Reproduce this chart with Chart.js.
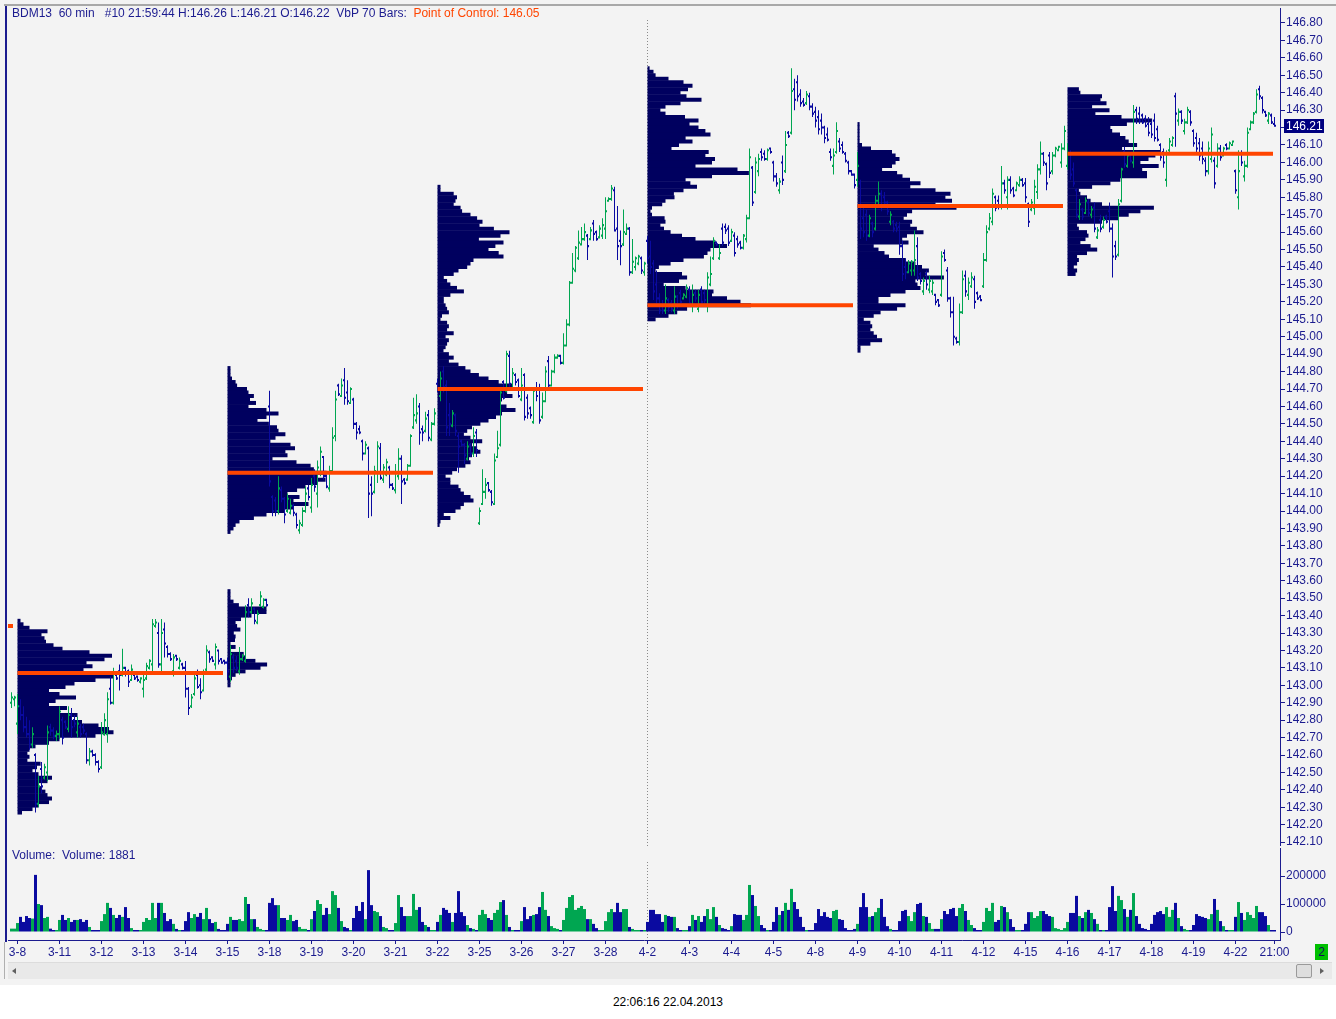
<!DOCTYPE html>
<html>
<head>
<meta charset="utf-8">
<title>BDM13 60 min</title>
<script src="https://cdn.jsdelivr.net/npm/chart.js@4.4.1/dist/chart.umd.min.js"></script>
<style>
  body { margin: 0; width: 1336px; height: 1019px; overflow: hidden; background: #fff;
         font-family: "Liberation Sans", Arial, sans-serif; }
  div, canvas { position: absolute; }
  #panel { left: 0; top: 0; width: 1336px; height: 985px; background: #f3f3f3; }
  #topline { left: 4px; top: 4px; width: 1332px; height: 2px; background: #a8a8a8; }
  #leftline { left: 5px; top: 6px; width: 2px; height: 936px; background: #1b1b8f; }
  #leftline2 { left: 4px; top: 942px; width: 1px; height: 37px; background: #b0b0b0; }
  #price { left: 8px; top: 8px; }
  #volume { left: 8px; top: 848px; }
  #header, #vollabel { left: 12px; font-size: 12px; line-height: 16px; color: #1b1b8f; white-space: pre; }
  #header { top: 5px; }
  #vollabel { top: 847px; }
  .poc { color: #ff4500; }
  #scroll { left: 8px; top: 962px; width: 1324px; height: 16px; background: #e9e9e9; border-top: 1px solid #dcdcdc; }
  #larrow { left: 4px; top: 5px; width: 0; height: 0; border-top: 3px solid transparent;
            border-bottom: 3px solid transparent; border-right: 4px solid #606060; }
  #thumb { left: 1288px; top: 1px; width: 14px; height: 12px; background: #dedede;
           border: 1px solid #9a9a9a; border-radius: 2px; }
  #rarrow { left: 1312px; top: 5px; width: 0; height: 0; border-top: 3px solid transparent;
            border-bottom: 3px solid transparent; border-left: 4px solid #606060; }
  #badge { left: 1315px; top: 944px; width: 13px; height: 16px; background: #00c000; color: #10105a;
           font-size: 12px; line-height: 16px; text-align: center; }
  #stamp { left: 0; top: 995px; width: 1336px; text-align: center; font-size: 12px; line-height: 14px; color: #000; }
</style>
</head>
<body>
<div id="panel"></div>
<div id="topline"></div>
<div id="leftline"></div>
<div id="leftline2"></div>
<canvas id="price" width="1328" height="838"></canvas>
<canvas id="volume" width="1328" height="114"></canvas>
<div id="header"></div>
<div id="vollabel"></div>
<div id="scroll"><div id="larrow"></div><div id="thumb"></div><div id="rarrow"></div></div>
<div id="badge">2</div>
<div id="stamp">22:06:16 22.04.2013</div>

<script>
// 60 min bars, first visible bar is index -2 (two bars of 3-7), 14 bars per day
const firstBar = -2;

const opens = [
  142.90,142.92,
  142.78,142.88,142.83,142.76,142.72,142.66,142.60,142.32,142.52,142.47,142.50,142.76,142.74,142.71,
  142.72,142.80,142.79,142.75,142.83,142.80,142.73,142.76,142.76,142.72,142.57,142.62,142.60,142.56,
  142.53,142.72,142.72,142.98,142.90,143.06,143.08,143.06,143.10,143.08,143.03,143.06,143.05,143.02,
  142.98,143.04,143.10,143.12,143.34,143.30,143.12,143.32,143.22,143.18,143.08,143.17,143.10,143.12,
  143.10,142.98,142.88,142.95,143.06,143.00,142.97,143.09,143.19,143.16,143.12,143.20,143.15,143.14,
  143.13,143.05,143.16,143.14,143.08,143.15,143.14,143.46,143.42,143.44,143.36,143.46,143.45,143.49,
  144.60,144.08,144.06,144.00,144.12,144.07,144.00,143.99,144.03,143.98,143.89,143.92,144.00,144.13,
  144.02,144.20,144.10,144.22,144.31,144.20,144.13,144.23,144.43,144.72,144.66,144.75,144.68,144.62,
  144.64,144.50,144.47,144.40,144.33,144.36,144.15,144.11,144.22,144.36,144.18,144.21,144.25,144.15,
  144.12,144.20,144.30,144.18,144.18,144.26,144.48,144.52,144.60,144.47,144.46,144.55,144.41,144.50,
  144.73,144.66,144.80,144.72,144.55,144.49,144.55,144.43,144.40,144.38,144.30,144.38,144.33,144.45,
  143.93,144.04,144.11,144.16,144.11,144.04,144.31,144.38,144.74,144.69,144.89,144.70,144.78,144.75,
  144.64,144.78,144.65,144.59,144.51,144.70,144.70,144.54,144.63,144.86,144.72,144.80,144.88,144.89,
  144.85,144.95,145.07,145.31,145.38,145.45,145.53,145.56,145.58,145.56,145.65,145.60,145.57,145.58,
  145.62,145.78,145.79,145.84,145.62,145.55,145.53,145.59,145.62,145.37,145.40,145.42,145.45,145.37,
  145.55,145.46,145.42,145.30,145.22,145.18,145.15,145.21,145.19,145.15,145.23,145.25,145.22,145.23,
  145.27,145.18,145.25,145.16,145.27,145.25,145.18,145.30,145.45,145.54,145.45,145.62,145.63,145.62,
  145.55,145.58,145.56,145.54,145.51,145.56,145.68,145.97,145.83,145.95,146.06,146.05,146.02,146.08,
  146.00,145.92,145.84,146.00,145.95,146.17,146.17,146.42,146.46,146.39,146.35,146.34,146.38,146.32,
  146.29,146.26,146.24,146.20,146.16,146.06,145.98,146.06,146.12,146.10,146.05,146.00,145.95,145.93,
  145.90,145.88,145.68,145.70,145.58,145.65,145.62,145.78,145.82,145.80,145.77,145.66,145.66,145.64,
  145.63,145.52,145.40,145.37,145.38,145.38,145.52,145.36,145.26,145.36,145.27,145.26,145.24,145.21,
  145.24,145.48,145.38,145.22,145.14,144.99,144.97,145.14,145.35,145.24,145.29,145.33,145.25,145.23,
  145.29,145.44,145.62,145.66,145.80,145.78,145.75,145.88,145.80,145.90,145.85,145.84,145.87,145.90,
  145.88,145.76,145.73,145.74,145.83,145.96,146.05,145.99,146.04,145.95,146.04,146.07,146.00,146.08,
  145.98,146.05,145.96,145.84,145.69,145.73,145.71,145.77,145.70,145.74,145.57,145.67,145.63,145.69,
  145.72,145.62,145.52,145.47,145.78,146.06,145.98,146.04,146.00,146.30,146.28,146.27,146.25,146.22,
  146.22,146.24,146.19,146.10,146.06,145.90,146.07,146.10,146.38,146.24,146.29,146.18,146.23,146.29,
  146.18,146.14,146.11,146.08,146.01,145.95,146.02,146.01,145.98,146.08,146.04,146.10,146.08,146.10,
  145.95,145.80,146.05,145.92,145.98,146.19,146.23,146.29,146.42,146.37,146.29,146.24,146.27,146.22
];

const highs = [
  142.96,142.94,
  142.95,142.92,142.88,142.82,142.80,142.76,142.61,142.48,142.56,142.55,142.77,142.78,142.76,142.74,
  142.88,142.82,142.80,142.88,142.87,142.83,142.82,142.78,142.78,142.73,142.64,142.63,142.61,142.57,
  142.79,142.84,142.96,143.05,143.10,143.07,143.12,143.21,143.10,143.09,143.12,143.06,143.05,143.04,
  143.07,143.13,143.15,143.38,143.38,143.36,143.38,143.36,143.23,143.19,143.18,143.17,143.16,143.13,
  143.14,142.99,142.95,143.06,143.09,143.04,143.09,143.23,143.20,143.16,143.24,143.20,143.15,143.14,
  143.16,143.23,143.18,143.17,143.22,143.18,143.46,143.50,143.50,143.44,143.43,143.54,143.50,143.49,
  144.69,144.09,144.08,144.20,144.14,144.08,144.10,144.07,144.04,143.99,143.95,144.02,144.14,144.15,
  144.19,144.24,144.29,144.37,144.31,144.21,144.26,144.48,144.69,144.73,144.76,144.82,144.75,144.71,
  144.65,144.51,144.49,144.41,144.40,144.37,144.20,144.26,144.40,144.39,144.27,144.30,144.26,144.16,
  144.27,144.36,144.32,144.19,144.27,144.44,144.65,144.67,144.62,144.49,144.57,144.58,144.51,144.59,
  144.76,144.80,144.83,144.75,144.62,144.58,144.56,144.45,144.41,144.39,144.40,144.39,144.48,144.47,
  144.02,144.24,144.19,144.16,144.12,144.33,144.46,144.69,144.75,144.92,144.92,144.82,144.79,144.76,
  144.82,144.79,144.67,144.60,144.70,144.74,144.73,144.68,144.83,144.89,144.81,144.90,144.90,144.89,
  145.02,145.10,145.32,145.48,145.52,145.61,145.63,145.65,145.59,145.63,145.67,145.61,145.64,145.68,
  145.80,145.80,145.87,145.86,145.75,145.61,145.73,145.65,145.63,145.56,145.46,145.47,145.46,145.43,
  145.58,145.55,145.44,145.38,145.25,145.21,145.30,145.22,145.21,145.29,145.24,145.27,145.25,145.30,
  145.29,145.30,145.27,145.27,145.29,145.27,145.37,145.46,145.57,145.54,145.53,145.65,145.65,145.64,
  145.62,145.60,145.58,145.55,145.59,145.70,146.08,145.98,146.03,146.05,146.08,146.07,146.08,146.08,
  146.01,145.94,145.91,146.04,146.18,146.18,146.54,146.48,146.50,146.42,146.37,146.41,146.40,146.34,
  146.32,146.30,146.28,146.21,146.20,146.08,146.08,146.23,146.14,146.12,146.06,146.01,145.95,145.93,
  146.06,145.90,145.76,145.73,145.70,145.66,145.81,145.89,145.84,145.83,145.78,145.72,145.67,145.66,
  145.66,145.55,145.45,145.44,145.44,145.61,145.57,145.37,145.34,145.38,145.35,145.33,145.24,145.21,
  145.49,145.50,145.40,145.23,145.23,145.00,145.19,145.38,145.38,145.34,145.37,145.35,145.26,145.24,
  145.48,145.64,145.71,145.85,145.81,145.81,145.98,145.90,145.92,145.92,145.86,145.89,145.92,145.91,
  145.91,145.77,145.79,145.90,145.99,146.12,146.06,146.00,146.06,146.06,146.09,146.09,146.11,146.21,
  146.11,146.07,146.00,145.85,145.79,145.74,145.80,145.79,145.75,145.77,145.63,145.70,145.69,145.70,
  145.77,145.65,145.55,145.79,145.97,146.09,146.06,146.04,146.33,146.32,146.32,146.28,146.27,146.26,
  146.24,146.28,146.21,146.11,146.08,146.07,146.14,146.15,146.40,146.31,146.30,146.25,146.32,146.30,
  146.19,146.17,146.14,146.12,146.03,146.12,146.20,146.03,146.11,146.10,146.09,146.11,146.12,146.12,
  145.96,146.07,146.07,146.01,146.20,146.24,146.29,146.42,146.44,146.38,146.29,146.29,146.28,146.26
];

const lows = [
  142.87,142.88,
  142.72,142.80,142.73,142.70,142.63,142.64,142.27,142.30,142.38,142.46,142.45,142.71,142.69,142.68,
  142.69,142.66,142.75,142.73,142.70,142.76,142.70,142.70,142.72,142.55,142.54,142.59,142.54,142.50,
  142.52,142.71,142.67,142.89,142.89,143.03,142.97,143.05,143.05,142.99,143.03,143.03,143.02,143.01,
  142.93,143.03,143.09,143.07,143.33,143.10,143.08,143.16,143.16,143.14,143.05,143.14,143.09,143.09,
  142.93,142.83,142.87,142.94,142.98,142.92,142.97,143.08,143.13,143.14,143.09,143.12,143.13,143.12,
  143.03,143.02,143.07,143.08,143.06,143.14,143.13,143.39,143.41,143.35,143.35,143.45,143.44,143.45,
  144.14,143.97,143.97,143.98,144.05,143.93,143.99,143.98,143.97,143.90,143.87,143.91,143.99,144.06,
  143.99,144.11,144.02,144.20,144.18,144.13,144.11,144.22,144.40,144.66,144.66,144.61,144.61,144.62,
  144.47,144.41,144.44,144.29,144.33,143.96,143.97,144.10,144.16,144.18,144.16,144.20,144.13,144.12,
  144.10,144.18,144.04,144.15,144.18,144.26,144.47,144.50,144.38,144.40,144.45,144.40,144.40,144.49,
  144.68,144.63,144.68,144.43,144.43,144.48,144.43,144.22,144.37,144.27,144.29,144.31,144.31,144.31,
  143.92,144.04,144.07,144.11,144.03,144.04,144.31,144.37,144.64,144.68,144.70,144.70,144.72,144.65,
  144.63,144.52,144.53,144.53,144.50,144.63,144.50,144.53,144.63,144.71,144.72,144.79,144.88,144.84,
  144.84,144.95,145.06,145.31,145.37,145.44,145.53,145.55,145.44,145.56,145.55,145.55,145.57,145.56,
  145.56,145.78,145.78,145.61,145.44,145.41,145.52,145.59,145.35,145.36,145.38,145.41,145.36,145.35,
  145.42,145.36,145.21,145.19,145.13,145.13,145.13,145.14,145.14,145.13,145.16,145.18,145.22,145.22,
  145.17,145.14,145.20,145.14,145.17,145.19,145.14,145.29,145.44,145.52,145.44,145.52,145.59,145.52,
  145.55,145.46,145.51,145.50,145.50,145.54,145.68,145.75,145.82,145.92,146.01,146.01,146.01,146.05,
  145.89,145.86,145.82,145.87,145.94,146.14,146.16,146.30,146.35,146.32,146.32,146.33,146.30,146.26,
  146.20,146.16,146.16,146.11,146.12,146.01,145.93,146.05,146.06,146.05,146.00,145.93,145.93,145.85,
  145.86,145.56,145.57,145.55,145.57,145.57,145.61,145.75,145.72,145.75,145.70,145.64,145.60,145.60,
  145.47,145.32,145.33,145.37,145.35,145.35,145.32,145.30,145.24,145.27,145.25,145.24,145.18,145.17,
  145.23,145.43,145.20,145.11,144.95,144.96,144.95,145.13,145.23,145.21,145.28,145.16,145.21,145.21,
  145.28,145.43,145.61,145.64,145.72,145.73,145.73,145.82,145.73,145.82,145.80,145.84,145.86,145.86,
  145.77,145.63,145.72,145.70,145.79,145.93,145.98,145.84,145.91,145.93,146.03,146.07,145.97,146.07,
  145.96,145.90,145.86,145.68,145.67,145.67,145.71,145.69,145.68,145.60,145.56,145.60,145.62,145.65,
  145.60,145.34,145.44,145.46,145.77,145.97,145.97,146.00,145.97,146.22,146.22,146.22,146.20,146.15,
  146.14,146.12,146.12,146.01,145.97,145.86,146.06,146.09,146.09,146.21,146.22,146.16,146.22,146.21,
  146.09,146.05,146.01,145.99,145.92,145.93,146.00,145.85,145.97,146.01,146.04,146.07,146.08,146.10,
  145.82,145.73,145.98,145.89,145.97,146.19,146.22,146.28,146.36,146.28,146.26,146.22,146.22,146.21
];

const closes = [
  142.93,142.93,
  142.88,142.83,142.76,142.72,142.66,142.72,142.32,142.42,142.42,142.53,142.73,142.74,142.71,142.72,
  142.85,142.70,142.76,142.83,142.76,142.78,142.78,142.72,142.74,142.57,142.62,142.60,142.56,142.52,
  142.73,142.80,142.92,142.90,143.07,143.04,143.06,143.10,143.07,143.02,143.09,143.04,143.03,143.04,
  143.03,143.11,143.14,143.35,143.36,143.12,143.30,143.24,143.18,143.15,143.16,143.15,143.14,143.10,
  142.98,142.87,142.93,143.04,142.99,142.96,143.07,143.20,143.15,143.14,143.22,143.14,143.13,143.13,
  143.08,143.18,143.10,143.10,143.15,143.17,143.42,143.42,143.47,143.37,143.41,143.51,143.49,143.46,
  144.17,144.00,144.00,144.13,144.07,143.98,144.07,144.03,143.99,143.92,143.93,144.00,144.10,144.08,
  144.15,144.14,144.25,144.34,144.20,144.14,144.23,144.42,144.64,144.67,144.72,144.65,144.63,144.70,
  144.50,144.45,144.45,144.33,144.38,144.10,144.10,144.23,144.37,144.19,144.25,144.28,144.15,144.13,
  144.22,144.30,144.17,144.16,144.26,144.43,144.55,144.56,144.45,144.45,144.53,144.42,144.50,144.56,
  144.70,144.76,144.71,144.48,144.50,144.56,144.46,144.37,144.38,144.32,144.37,144.33,144.43,144.35,
  144.00,144.11,144.15,144.12,144.05,144.29,144.36,144.68,144.65,144.90,144.73,144.79,144.74,144.66,
  144.72,144.54,144.56,144.55,144.69,144.66,144.52,144.63,144.80,144.72,144.80,144.88,144.89,144.85,
  144.95,145.07,145.31,145.39,145.51,145.54,145.56,145.60,145.52,145.61,145.59,145.56,145.62,145.64,
  145.72,145.79,145.85,145.61,145.52,145.52,145.60,145.62,145.37,145.43,145.45,145.46,145.38,145.42,
  145.45,145.40,145.26,145.22,145.15,145.15,145.22,145.17,145.16,145.23,145.18,145.20,145.24,145.28,
  145.19,145.24,145.22,145.24,145.20,145.21,145.34,145.36,145.55,145.53,145.48,145.54,145.61,145.54,
  145.60,145.48,145.53,145.51,145.58,145.68,146.03,145.77,146.00,146.02,146.03,146.02,146.07,146.06,
  145.92,145.88,145.89,145.90,146.10,146.15,146.41,146.36,146.38,146.34,146.33,146.39,146.32,146.28,
  146.24,146.19,146.20,146.14,146.13,146.03,146.04,146.18,146.08,146.06,146.01,145.95,145.93,145.87,
  145.98,145.62,145.60,145.58,145.68,145.60,145.78,145.82,145.75,145.77,145.72,145.70,145.62,145.62,
  145.52,145.36,145.37,145.42,145.43,145.44,145.34,145.32,145.32,145.30,145.32,145.31,145.20,145.18,
  145.46,145.44,145.22,145.14,145.00,144.97,145.14,145.33,145.26,145.31,145.34,145.20,145.22,145.21,
  145.44,145.60,145.68,145.82,145.74,145.75,145.88,145.84,145.90,145.84,145.81,145.88,145.90,145.87,
  145.80,145.66,145.77,145.86,145.96,146.05,146.00,145.88,145.94,146.04,146.08,146.09,146.08,146.18,
  146.05,145.93,145.88,145.70,145.76,145.69,145.78,145.71,145.73,145.62,145.61,145.62,145.67,145.66,
  145.62,145.46,145.46,145.76,145.96,145.99,146.04,146.01,146.29,146.25,146.24,146.23,146.21,146.17,
  146.16,146.14,146.13,146.03,146.00,146.05,146.12,146.14,146.28,146.29,146.24,146.23,146.30,146.23,
  146.11,146.08,146.04,146.02,145.95,146.08,146.16,145.88,146.08,146.03,146.08,146.08,146.11,146.12,
  145.84,145.95,146.00,145.98,146.17,146.23,146.28,146.39,146.38,146.30,146.27,146.28,146.23,146.21
];

// volume per bar (thousands, last bar exact)
const volumesK = [
  12,12,32,54,36,57,50,48,204,100,96,50,54,12,7,7,43,61,43,50,
  36,43,43,46,36,43,18,7,7,7,39,64,104,86,61,50,61,54,89,50,
  14,7,7,7,36,50,43,104,50,104,104,68,39,46,29,11,7,7,39,71,
  50,64,54,68,46,86,46,32,36,11,7,7,29,54,43,43,46,39,125,100,
  46,46,18,11,7,7,104,121,96,96,50,50,43,61,39,43,18,11,11,7,
  46,75,114,100,61,86,64,146,132,86,39,18,14,7,50,93,75,107,46,221,
  96,75,71,57,18,14,7,7,32,132,89,57,57,57,136,79,89,36,25,18,
  7,7,36,61,86,79,68,36,68,146,71,57,25,14,11,7,61,79,64,50,
  43,68,79,107,114,61,18,7,7,7,39,89,46,57,61,64,89,143,79,57,
  21,14,11,7,43,86,125,132,79,86,93,82,46,46,29,14,7,7,39,71,
  82,71,104,71,82,82,18,11,7,7,7,7,
  36,79,79,64,64,36,61,57,54,54,14,7,7,7,21,61,43,57,36,57,
  82,46,89,54,25,14,11,7,21,64,61,61,43,61,168,132,93,57,25,14,
  7,7,36,89,61,75,104,79,154,107,82,54,18,7,7,7,32,82,57,71,
  54,50,75,79,46,43,14,7,7,11,29,89,139,89,54,57,71,86,118,54,
  21,11,7,7,39,75,79,57,39,71,100,104,57,54,32,11,11,11,46,75,
  64,82,86,57,86,100,75,43,25,14,7,7,36,86,75,104,36,43,93,89,
  71,46,18,7,7,7,29,71,71,50,57,75,75,64,57,54,14,11,7,14,
  36,68,68,129,57,50,71,79,68,46,29,7,7,7,89,164,75,129,114,82,
  54,79,139,57,29,14,11,7,29,61,71,75,64,89,54,79,104,50,21,11,
  7,7,25,64,57,54,50,46,64,118,79,39,21,7,7,7,54,107,68,43,
  71,61,50,93,71,71,57,25,7,1.881
];
const volumes = volumesK.map(v => v * 1000);

// volume-by-price profiles, 70 bars each; widths measured in bars, rows every 0.02
const PROFILE_ROW = 0.02;
const profileStarts = [0, 70, 70, 140, 210, 280, 350];
const profileTops = [143.37, 144.82, 143.54, 145.86, 146.54, 146.22, 146.42];
const prof1 = [1,2,4,10,8,9,9.5,12,15,24, 31.5,29,23,25,22,33,32,26,19,16, 10.5,14,19.5,12.7,10.5,16.5,14,20,18,21.5,
  27,30.5,32,26,14,10.5,6,4,3.3,4, 3.3,7.7,6.5,5,7,11.5,10,7,8,9.3, 10,11.5,10.5,7,5,1.5];
const prof2Upper = [1,1,1,1.5,2.7,3.2,6.5,7,8.8,7.5, 9.5,7,13,17,13,10,13.8,16.5,17,19.3, 16,14.3,21,22.5,19.3,20,15,23,27.7,28.8,
  33,30,32.7,30,26,23.2,20,24,22,27, 22,19,13,8.8,4,2.7,2,1];
const prof2Lower = [1,1,1,2,3.8,13,13,8,4.5,2.7, 3.2,4.3,2.1,2.7,2.5,1,2.7,1,5.4,6, 9.3,13.2,11,6,2.7,1.5,1,1];
const prof3 = [1,1,5.4,6.5,6,5.4,7.7,8.2,11,13.2, 15,14,18.8,24,21,13.8,22,19.3,17,20.4, 22,12,11,9.9,7,5.4,2.1,3.2,4.3,6.5,
  8.8,4.3,2.1,2.1,2.7,3.2,3.8,1.5,1,3.2, 3.8,3.2,5.4,2.7,3.8,3.2,2.7,2,3.8,5.4, 3.8,7,9.3,11,13.8,17,20.4,25,28,23.2,
  25,21.5,21,23,26,21.5,19.5,17,14.3,11.5, 9.9,8.8,11,14.9,11.5,13.2,14.3,11.5,10.5,11, 9.3,6.5,4.9,2.7,4.3,4.3,7,7.7,8.8,11,
  12,8.8,7.7,6,2.1,4.3,1,0.7];
const prof4 = [0.7,2,2.7,7,12,15,13.5,11,13,18, 11,6,4.3,6,12.5,17,14,17,19.3,21, 12.7,15,10.5,8,20.4,19.3,22.5,21.5,16,30,
  33.8,21.5,12.7,14.3,16.5,12,8.8,9,6,4.9, 1.5,1,1.5,5.7,6,4.3,5.5,7.7,11.5,16, 22.7,26.5,21,20,18.8,12,7.7,3.8,2.7,11.5,
  13.2,10.5,5.4,12.7,22,21.5,26.5,31,34.5,13.2, 9.9,7,2.7];
const prof5 = [0.7,0.7,0.7,0.7,0.7,0.7,1.5,4.5,11.5,12.7, 14,12.7,11.5,8.2,13.2,15,17.5,21,17.6,26, 31,29.3,31.5,26,33,18.2,16.5,15.4,18.2,17.6,
  19.8,22,16.5,14.9,17,5.4,7,9,10.5,16, 19.3,21.5,23.8,22.7,28.8,19.3,20,21,16,11, 7,7,16,13.2,7.7,5.4,2.1,4.3,4.9,4.3,
  5.4,6.5,8.2,4.3,1,1];
const prof6 = [3.8,4.3,11.5,11,13,8.2,14,9.3,18,28.2, 19.8,14.3,14.9,17.5,19.3,20.4,23.2,18.2,31,29.3, 27,24.3,30.4,24.9,26.5,26.5,17.6,14.3,8.2,3.8,
  4.3,6.5,7.7,11.5,28.8,24.3,20.4,17,11.5,3.2, 3.8,6.5,7,6,4.3,7.7,9.9,6.5,3.2,3.8, 3.2,2.1,3.2,2.7];
const profileWidths = [prof1, prof2Upper, prof2Lower, prof3, prof4, prof5, prof6];

// point of control per profile (the first one belongs to the profile before the visible range)
const pocStarts = [-70, 0, 70, 140, 210, 280, 350];
const pocPrices = [143.34, 143.07, 144.22, 144.70, 145.18, 145.75, 146.05];
const POC_SPAN = 68.5;

const priceTicks = [142.1,142.2,142.3,142.4,142.5,142.6,142.7,142.8,142.9,143.0,143.1,143.2,143.3,143.4,143.5,143.6,
  143.7,143.8,143.9,144.0,144.1,144.2,144.3,144.4,144.5,144.6,144.7,144.8,144.9,145.0,145.1,145.2,145.3,145.4,145.5,
  145.6,145.7,145.8,145.9,146.0,146.1,146.2,146.3,146.4,146.5,146.6,146.7,146.8];
const volumeTicks = [0, 100000, 200000];
const dayTickBars = [0,14,28,42,56,70,84,98,112,126,140,154,168,182,196,210,224,238,252,266,280,294,308,322,336,350,364,378,392,406,419];
const dayLabels = ['3-8','3-11','3-12','3-13','3-14','3-15','3-18','3-19','3-20','3-21','3-22','3-25','3-26','3-27','3-28',
  '4-2','4-3','4-4','4-5','4-8','4-9','4-10','4-11','4-12','4-15','4-16','4-17','4-18','4-19','4-22','21:00'];
const monthBreaks = [210];

const GREEN = '#00a651';
const BLUE = '#0a0aa0';
const PROFILE = '#00005f';
const POC = '#ff4500';
const NAVY = '#1b1b8f';
const FONT = { family: '"Liberation Sans", Arial, sans-serif', size: 12 };
const X_MIN = -3 - 1 / 6;
const X_MAX = X_MIN + 424;

const last = closes.length - 1;
const barColor = k => (closes[k] >= opens[k] ? GREEN : BLUE);
const barX = k => firstBar + k;

document.getElementById('header').innerHTML =
  `BDM13  60 min   #10 21:59:44 H:${highs[last].toFixed(2)} L:${lows[last].toFixed(2)} O:${opens[last].toFixed(2)}  VbP 70 Bars:  ` +
  `<span class="poc">Point of Control: ${pocPrices[pocPrices.length - 1].toFixed(2)}</span>`;
document.getElementById('vollabel').textContent = `Volume:  Volume: ${Math.round(volumes[last])}`;

function fixY(s) { s.width = 56; s.paddingTop = 0; s.paddingBottom = 0; }
function fixX(s) { s.height = 22; s.paddingLeft = 0; s.paddingRight = 0; }

const monthLine = {
  id: 'monthLine',
  beforeDatasetsDraw(chart, args, opts) {
    const { ctx, chartArea, scales } = chart;
    ctx.save();
    ctx.strokeStyle = '#8a8a8a';
    ctx.lineWidth = 1;
    ctx.setLineDash([1, 2]);
    monthBreaks.forEach(b => {
      const x = Math.floor(scales.x.getPixelForValue(b)) + 0.5;
      ctx.beginPath();
      ctx.moveTo(x, chartArea.top + opts.top);
      ctx.lineTo(x, chartArea.bottom);
      ctx.stroke();
    });
    ctx.restore();
  }
};

const lastPrice = {
  id: 'lastPrice',
  afterDraw(chart) {
    const { ctx, chartArea, scales } = chart;
    const y = Math.round(scales.y.getPixelForValue(closes[last]));
    ctx.save();
    ctx.fillStyle = '#000080';
    ctx.fillRect(chartArea.right + 4, y - 7, 40, 14);
    ctx.fillStyle = '#ffffff';
    ctx.font = `12px ${FONT.family}`;
    ctx.textBaseline = 'middle';
    ctx.fillText(closes[last].toFixed(2), chartArea.right + 6, y + 1);
    ctx.restore();
  }
};

// datasets
const profileRows = [];
profileWidths.forEach((widths, p) => {
  widths.forEach((w, r) => {
    const start = profileStarts[p];
    profileRows.push({ x: [start, start + w], y: +(profileTops[p] - PROFILE_ROW * r).toFixed(2) });
  });
});

const TICK = 0.006;
const pocSets = pocPrices.map((p, k) => ({
  type: 'line',
  data: [{ x: pocStarts[k], y: p }, { x: pocStarts[k] + POC_SPAN, y: p }],
  borderColor: POC, borderWidth: 4, borderCapStyle: 'butt', pointRadius: 0, order: 0
}));

const barBase = { type: 'bar', grouped: false, inflateAmount: 0, borderWidth: 0 };

new Chart(document.getElementById('price'), {
  type: 'bar',
  data: {
    datasets: [
      ...pocSets,
      { ...barBase, order: 1, barThickness: 2,
        data: closes.map((c, k) => ({ x: barX(k) + 1 / 6, y: [c - TICK, c + TICK] })),
        backgroundColor: ctx => barColor(ctx.dataIndex) },
      { ...barBase, order: 1, barThickness: 2,
        data: opens.map((o, k) => ({ x: barX(k) - 1 / 6, y: [o - TICK, o + TICK] })),
        backgroundColor: ctx => barColor(ctx.dataIndex) },
      { ...barBase, order: 2, barThickness: 1,
        data: highs.map((h, k) => ({ x: barX(k), y: [lows[k], h] })),
        backgroundColor: ctx => barColor(ctx.dataIndex) },
      { ...barBase, order: 3, indexAxis: 'y', barThickness: 4,
        data: profileRows, backgroundColor: PROFILE }
    ]
  },
  options: {
    responsive: false, animation: false, devicePixelRatio: 1, events: [],
    layout: { padding: 0 },
    plugins: { legend: { display: false }, tooltip: { enabled: false }, monthLine: { top: 12 } },
    scales: {
      x: { type: 'linear', min: X_MIN, max: X_MAX, offset: false, display: false, grid: { offset: false } },
      y: {
        type: 'linear', position: 'right', min: 142.078, max: 146.886, offset: false,
        afterBuildTicks: s => { s.ticks = priceTicks.map(v => ({ value: v })); },
        afterFit: fixY,
        ticks: { color: NAVY, font: FONT, padding: 1, callback: v => v.toFixed(2) },
        grid: { offset: false, drawOnChartArea: false, drawTicks: true, tickLength: 5, color: NAVY },
        border: { display: true, color: NAVY }
      }
    }
  },
  plugins: [monthLine, lastPrice]
});

new Chart(document.getElementById('volume'), {
  type: 'bar',
  data: {
    datasets: [{
      ...barBase, barThickness: 3, minBarLength: 2,
      data: volumes.map((v, k) => ({ x: barX(k), y: v })),
      backgroundColor: ctx => barColor(ctx.dataIndex)
    }]
  },
  options: {
    responsive: false, animation: false, devicePixelRatio: 1, events: [],
    layout: { padding: 0 },
    plugins: { legend: { display: false }, tooltip: { enabled: false }, monthLine: { top: 14 } },
    scales: {
      x: {
        type: 'linear', min: X_MIN, max: X_MAX, offset: false, position: 'bottom',
        afterBuildTicks: s => { s.ticks = dayTickBars.map(v => ({ value: v })); },
        afterFit: fixX,
        ticks: { autoSkip: false, maxRotation: 0, color: NAVY, font: FONT, padding: 1,
                 callback: (v, i) => dayLabels[i] },
        grid: { offset: false, drawOnChartArea: false, drawTicks: true, tickLength: 4, color: NAVY },
        border: { display: true, color: NAVY }
      },
      y: {
        type: 'linear', position: 'right', min: -28571, max: 300000, offset: false,
        afterBuildTicks: s => { s.ticks = volumeTicks.map(v => ({ value: v })); },
        afterFit: fixY,
        ticks: { color: NAVY, font: FONT, padding: 1, callback: v => String(v) },
        grid: { drawOnChartArea: false, drawTicks: true, tickLength: 5, color: NAVY },
        border: { display: true, color: NAVY }
      }
    }
  },
  plugins: [monthLine]
});
</script>
</body>
</html>
